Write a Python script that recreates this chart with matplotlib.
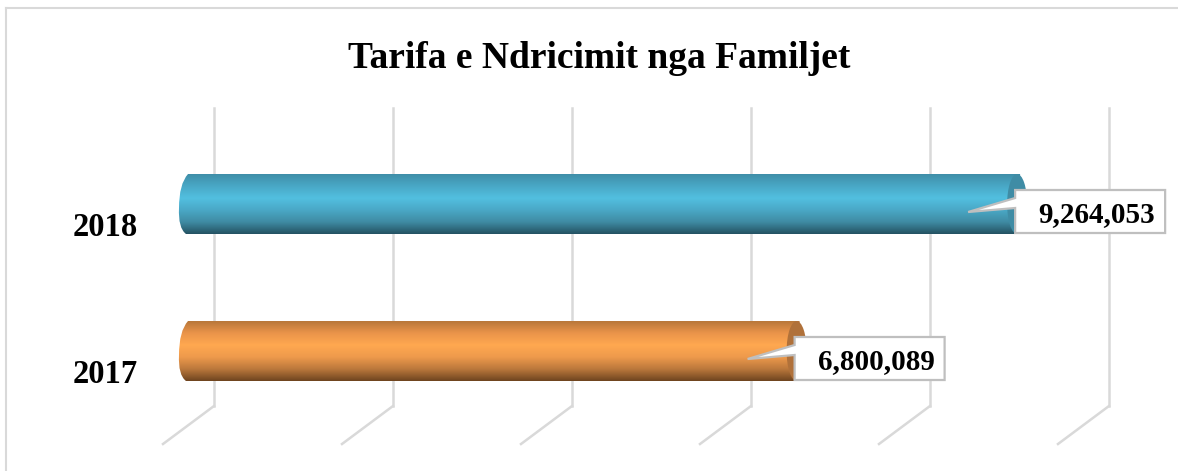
import numpy as np
import matplotlib
matplotlib.use("Agg")
import matplotlib.pyplot as plt
from matplotlib.colors import LinearSegmentedColormap
from matplotlib.patches import PathPatch, Polygon, Ellipse
from matplotlib.path import Path

years = ["2018", "2017"]
values = [9264053, 6800089]
labels = ["9,264,053", "6,800,089"]
ticks = [0, 2000000, 4000000, 6000000, 8000000, 10000000]
title = "Tarifa e Ndricimit nga Familjet"
body_colors = [
    ["#3f8ea8", "#49a8c6", "#52bfe0", "#4aa8c6", "#3f8ba3", "#245262"],
    ["#b8773a", "#ea944a", "#ffa850", "#ee9a4c", "#bb783c", "#6e441f"],
]
cap_colors = ["#3f8ca5", "#b0713a"]

plt.rcParams["font.family"] = ["Liberation Serif", "DejaVu Serif"]

fig = plt.figure(figsize=(11.78, 4.71), dpi=100)
ax = fig.add_axes([0, 0, 1, 1])

# one pixel on the value axis, zero sits at x=186
px = 2000000 / 179.0
ax.axis("off")

# chart frame, only top and left show
ax.plot([-180 * px, 992 * px], [8, 8], color="#d9d9d9", lw=1.5, zorder=1)
ax.plot([-180 * px, -180 * px], [8, 471], color="#d9d9d9", lw=1.5, zorder=1)

# walls and floor
grid = "#d9d9d9"
for t in ticks:
    ax.plot([t + 28 * px, t + 28 * px], [108, 406], color=grid, lw=1.8, zorder=1)
    ax.plot([t + 28 * px, t - 23 * px], [406, 444], color=grid, lw=1.8, zorder=1)

ys = [204, 351]
h = 30
for i, v in enumerate(values):
    y = ys[i]
    top, bot = y - h, y + h
    cmap = LinearSegmentedColormap.from_list("b", body_colors[i])
    # body: sheared tube with rounded near end
    verts = [
        (2 * px, top), (v + 5 * px, top), (v, bot), (0, bot),
        (-8 * px, bot - 6), (-7 * px, y + 4),
        (-7 * px, y - 20), (2 * px, top), (2 * px, top),
    ]
    codes = [Path.MOVETO, Path.LINETO, Path.LINETO, Path.LINETO,
             Path.CURVE3, Path.CURVE3,
             Path.CURVE3, Path.CURVE3, Path.CLOSEPOLY]
    clip = PathPatch(Path(verts, codes), fc="none", ec="none", transform=ax.transData)
    ax.add_patch(clip)
    im = ax.imshow(np.linspace(0, 1, 256).reshape(-1, 1), cmap=cmap, aspect="auto",
                   extent=(-10 * px, v + 8 * px, bot, top), zorder=3)
    im.set_clip_path(clip)
    # open far end of the cylinder
    ax.add_patch(Ellipse((v + 2 * px, y), 20 * px, 2 * h, fc=cap_colors[i], ec="none", zorder=3.5))
    # label with callout
    l = v
    r = l + 150 * px
    t, b = y - 14, y + 29
    box = [(l, t), (r, t), (r, b), (l, b), (l, y + 4), (v - 47 * px, y + 8), (l, y - 6)]
    ax.add_patch(Polygon(box, closed=True, fc="white", ec="#bfbfbf", lw=1.6, zorder=4))
    ax.text(r - 10 * px, (t + b) / 2, labels[i], ha="right", va="center_baseline",
            fontsize=21, fontweight="bold", color="black", zorder=5)
    ax.text(-81 * px, y + 20, years[i], ha="center", va="center_baseline",
            fontsize=23.5, fontweight="bold", color="black", zorder=5)

ax.set_xlim(-186 * px, (1178 - 186) * px)
ax.set_ylim(471, 0)
ax.text((599.5 - 186) * px, 54, title, ha="center", va="center_baseline",
        fontsize=27, fontweight="bold", color="black")

fig.savefig("out.png", dpi=100)
